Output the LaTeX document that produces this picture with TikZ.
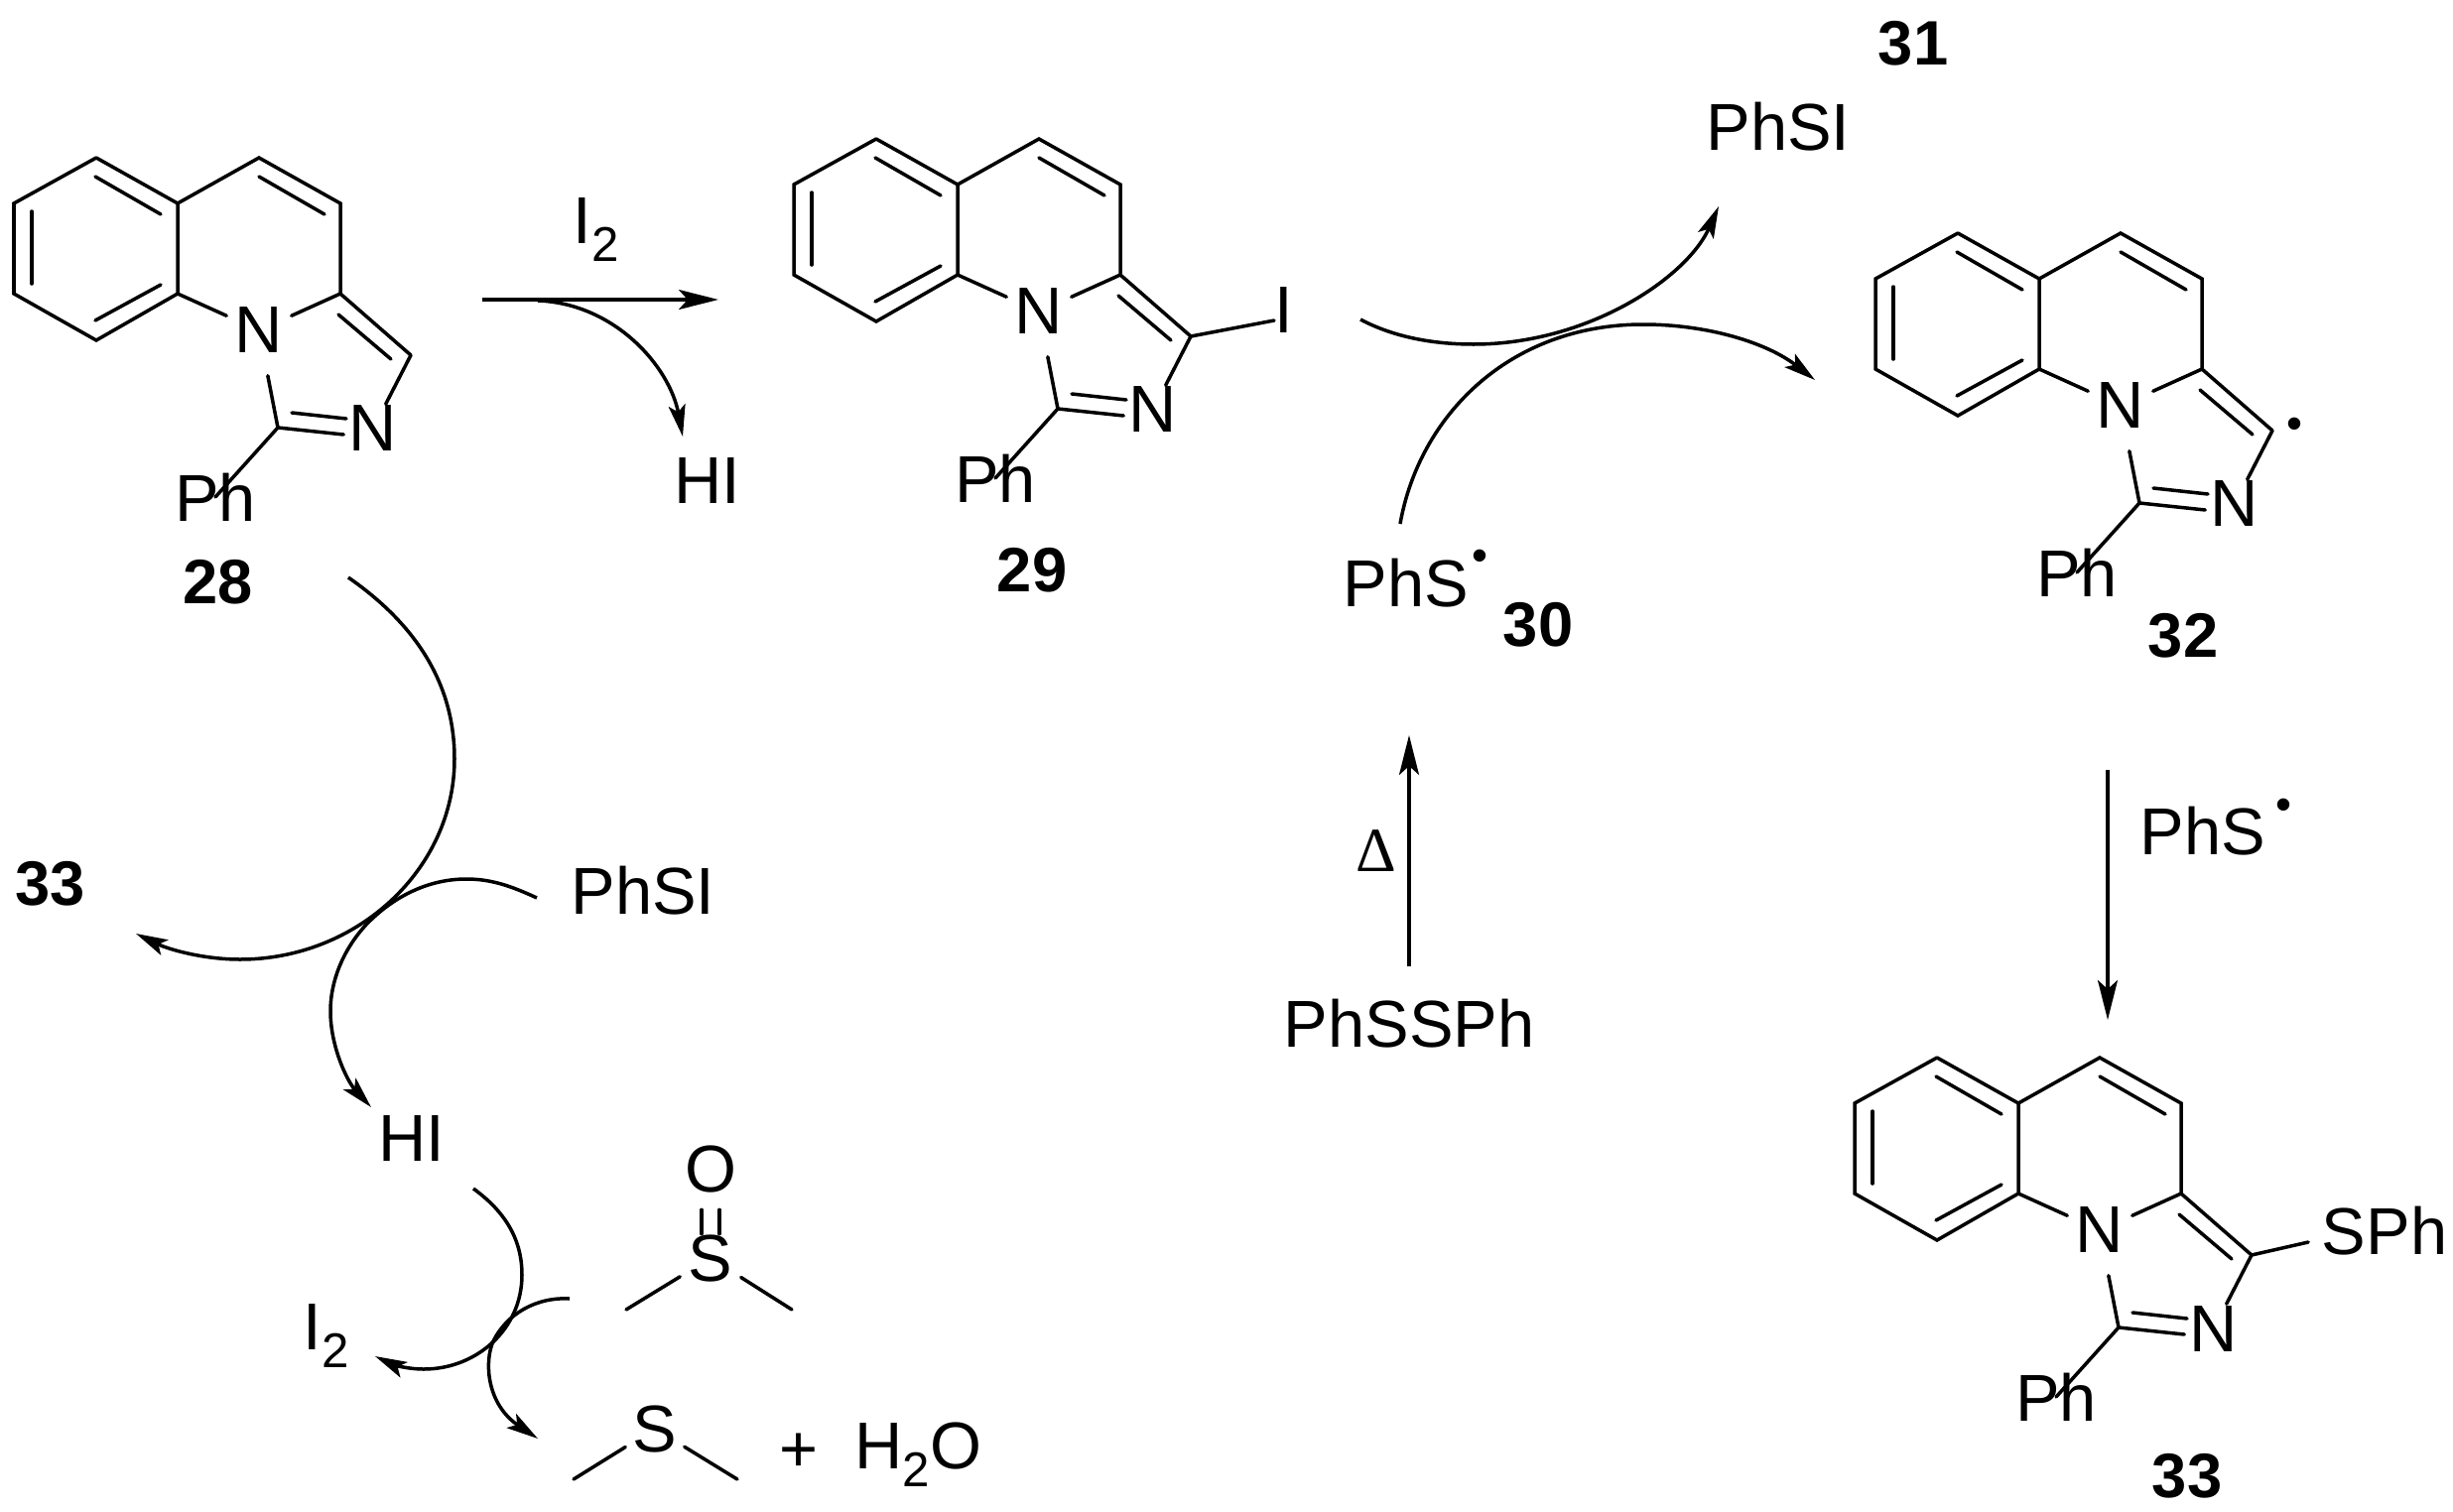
\documentclass[tikz,border=0pt]{standalone}
\usepackage{fontspec}
\setmainfont{Liberation Sans}
\newfontfamily\deltafont{Liberation Serif}
\usetikzlibrary{arrows.meta,calc}

\tikzset{
  bond/.style={line width=0.035cm,line cap=round},
  rarrow/.style={line width=0.035cm,-{Stealth[length=0.4cm,width=0.2cm,inset=0.09cm]}},
  carrow/.style={line width=0.035cm,-{Stealth[length=0.32cm,width=0.17cm,inset=0.07cm]}},
  txt/.style={font=\fontsize{19}{23}\selectfont,inner sep=0pt},
  cmpd/.style={font=\fontsize{18}{22}\selectfont\bfseries,inner sep=0pt},
  radical/.style={font=\fontsize{13}{14}\selectfont,inner sep=0pt},
}
\newcommand{\subtwo}{\raisebox{-0.27em}{\fontsize{14}{14}\selectfont 2}}

% the ring system, #1 prefix of its names, (#2,#3) its upper left corner
\newcommand{\ringsys}[3]{%
  \begin{scope}[shift={(#2,#3)}]
    \coordinate (#1a) at (83,0);
    \coordinate (#1b) at (0,46);
    \coordinate (#1c) at (0,137);
    \coordinate (#1d) at (83,184);
    \coordinate (#1e) at (165,137);
    \coordinate (#1f) at (165,46);
    \coordinate (#1g) at (247,0);
    \coordinate (#1h) at (329,46);
    \coordinate (#1i) at (329,137);
    \coordinate (#1j) at (400,199);
    \coordinate (#1k) at (266,272);
    \node[txt,minimum width=0.64cm,minimum height=0.9cm] (#1n1) at (247,174) {N};
    \node[txt,minimum width=0.58cm,minimum height=0.48cm] (#1n2) at (362,273) {N};
    \node[txt] (#1ph) at (203,342) {Ph};
    \draw[bond] (#1a) -- (#1b) -- (#1c) -- (#1d) -- (#1e) -- (#1f) -- (#1a);
    \draw[bond] (#1f) -- (#1g) -- (#1h) -- (#1i) -- (#1j);
    \draw[bond] (#1e) -- (#1n1);
    \draw[bond] (#1i) -- (#1n1);
    \draw[bond] (#1k) -- (#1n1);
    \draw[bond] (#1j) -- (#1n2);
    \draw[bond] (#1k) -- ([yshift=-0.06cm]#1n2.west);
    \draw[bond] (#1k) -- (#1ph.center);
    % inner lines of the double bonds
    \draw[bond] (18,54) -- (18,127);
    \draw[bond] (82,19) -- (148,57);
    \draw[bond] (82,164) -- (148,128);
    \draw[bond] (247,19) -- (313,57);
    \draw[bond] (327,158) -- (380,203);
    \draw[bond] (280,257) -- (335,263);
  \end{scope}
}

\begin{document}
\begin{tikzpicture}[x=0.01cm,y=-0.01cm]
  \useasboundingbox (0,0) rectangle (2472,1524);

  % compounds
  \ringsys{p28}{14}{159}
  \ringsys{p29}{800}{140}
  \ringsys{p32}{1890}{235}
  \ringsys{p33}{1869}{1066}

  \node[cmpd] (l28) at (220,587) {28};
  \node[cmpd] (l29) at (1040,575) {29};
  \node[cmpd] (l30) at (1550,630) {30};
  \node[cmpd] (l31) at (1928,44) {31};
  \node[cmpd] (l32) at (2200,641) {32};
  \node[cmpd] (l33) at (2204,1488) {33};
  \node[cmpd] (l33b) at (51,891) {33};

  % substituents
  \node[txt] (iodo) at (1294,313) {I};
  \draw[bond] (p29j) -- ([yshift=-0.1cm]iodo.west);
  \node[txt,inner sep=0.13cm] (sph) at (2403,1241) {SPh};
  \draw[bond] (p33j) -- ([yshift=-0.11cm]sph.west);
  \node[radical] (dot32) at (2312,432) {\textbullet};

  % iodination
  \node[txt,anchor=base west] (i2a) at (577,245) {I\subtwo};
  \node[txt] (hia) at (713,485) {HI};
  \coordinate (r1s) at (486,302);
  \coordinate (r1e) at (724,302);
  \coordinate (r1c) at (542,303);
  \coordinate (r1h) at (688,440);
  \draw[rarrow] (r1s) -- (r1e);
  \draw[carrow] (r1c) .. controls (620,306) and (675,370) .. (r1h);

  % PhS radical
  \node[txt] (phs) at (1417,588) {PhS};
  \node[radical] (dot30) at (1491,565) {\textbullet};
  \node[txt] (phsi) at (1792,128) {PhSI};
  \coordinate (r2s) at (1371,322);
  \coordinate (r2e) at (1732,208);
  \draw[carrow] (r2s) .. controls (1405,340) and (1445,347) .. (1485,347)
    .. controls (1600,347) and (1700,280) .. (r2e);
  \coordinate (r3s) at (1411,528);
  \coordinate (r3e) at (1829,383);
  \draw[carrow] (r3s) .. controls (1430,420) and (1520,327) .. (1656,327)
    .. controls (1720,327) and (1780,345) .. (r3e);

  \node[txt] (phssph) at (1420,1032) {PhSSPh};
  \node[font=\fontsize{18}{20}\selectfont\deltafont,inner sep=0pt] (heat) at (1387,858) {Δ};
  \coordinate (r4s) at (1420,974);
  \coordinate (r4e) at (1420,741);
  \draw[rarrow] (r4s) -- (r4e);

  \node[txt] (phsb) at (2220,838) {PhS};
  \node[radical] (dot33) at (2301,816) {\textbullet};
  \coordinate (r5s) at (2124,776);
  \coordinate (r5e) at (2124,1028);
  \draw[rarrow] (r5s) -- (r5e);

  % lower left cycle
  \node[txt] (phsib) at (648,898) {PhSI};
  \node[txt] (hib) at (415,1148) {HI};
  \node[txt,anchor=base west] (i2b) at (305,1360) {I\subtwo};
  \coordinate (c1s) at (351,582);
  \coordinate (c1e) at (137,941);
  \draw[carrow] (c1s) .. controls (420,630) and (458,690) .. (458,765)
    .. controls (458,876) and (360,967) .. (242,967)
    .. controls (205,967) and (170,957) .. (c1e);
  \coordinate (c2s) at (541,905);
  \coordinate (c2e) at (374,1116);
  \draw[carrow] (c2s) .. controls (515,893) and (495,886) .. (470,886)
    .. controls (430,886) and (395,905) .. (369,932)
    .. controls (345,958) and (333,990) .. (333,1019)
    .. controls (333,1055) and (350,1090) .. (c2e);
  \coordinate (c3s) at (477,1198);
  \coordinate (c3e) at (378,1367);
  \draw[carrow] (c3s) .. controls (510,1222) and (526,1250) .. (526,1285)
    .. controls (526,1340) and (480,1380) .. (427,1380)
    .. controls (410,1380) and (395,1375) .. (c3e);
  \coordinate (c4s) at (574,1309);
  \coordinate (c4e) at (542,1450);
  \draw[carrow] (c4s) .. controls (540,1307) and (510,1325) .. (497,1352)
    .. controls (488,1372) and (490,1415) .. (c4e);

  % dimethyl sulfoxide
  \node[txt] (oxo) at (716,1178) {O};
  \node[txt,minimum width=0.6cm,minimum height=0.46cm] (so) at (716,1268) {S};
  \coordinate (me1) at (631,1320);
  \coordinate (me2) at (798,1320);
  \draw[bond] (so) -- (me1);
  \draw[bond] (so) -- (me2);
  \draw[bond,shorten <=0.17cm] ([xshift=-0.09cm]oxo.south) -- ([xshift=-0.09cm]so.north);
  \draw[bond,shorten <=0.17cm] ([xshift=0.09cm]oxo.south) -- ([xshift=0.09cm]so.north);

  % dimethyl sulfide and water
  \node[txt,minimum width=0.58cm,minimum height=0.46cm] (sd) at (660,1440) {S};
  \coordinate (me3) at (578,1491);
  \coordinate (me4) at (743,1491);
  \draw[bond] (sd) -- (me3);
  \draw[bond] (sd) -- (me4);
  \node[txt] (plus) at (805,1464) {+};
  \node[txt,anchor=base west] (water) at (861,1480) {H\subtwo O};
\end{tikzpicture}
\end{document}
